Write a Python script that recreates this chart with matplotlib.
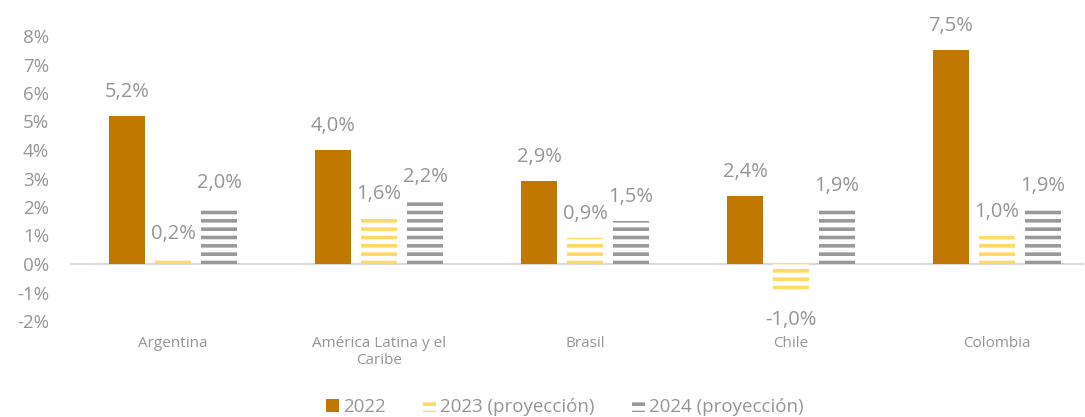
import matplotlib
matplotlib.use("Agg")
import matplotlib.pyplot as plt
from matplotlib.patches import Patch
import numpy as np

categories = ["Argentina", "América Latina y el\nCaribe", "Brasil", "Chile", "Colombia"]
series_names = ["2022", "2023 (proyección)", "2024 (proyección)"]
v2022 = [5.2, 4.0, 2.9, 2.4, 7.5]
v2023 = [0.2, 1.6, 0.9, -1.0, 1.0]
v2024 = [2.0, 2.2, 1.5, 1.9, 1.9]
yticks = [-2, -1, 0, 1, 2, 3, 4, 5, 6, 7, 8]

colors = ["#C07800", "#FFD966", "#999999"]
hatches = [None, "--", "--"]
text_color = "#959595"

plt.rcParams['font.family'] = ['Open Sans', 'DejaVu Sans']
plt.rcParams['hatch.linewidth'] = 2.6

W, H = 1085, 417
fig = plt.figure(figsize=(W / 100, H / 100), dpi=100)
ax_left, ax_right = 70, 1084
ax_top, ax_bottom = 36, 321
ax = fig.add_axes([ax_left / W, 1 - ax_bottom / H, (ax_right - ax_left) / W, (ax_bottom - ax_top) / H])

x = np.arange(len(categories))
pitch = 206.0
width = 36 / pitch
offs = [-46 / pitch, 0, 46 / pitch]
all_vals = [v2022, v2023, v2024]

for i, (vals, c, h) in enumerate(zip(all_vals, colors, hatches)):
    if h is None:
        ax.bar(x + offs[i], vals, width, color=c, linewidth=0, zorder=2)
    else:
        ax.bar(x + offs[i], vals, width, facecolor="white", edgecolor=c,
               hatch=h, linewidth=0, zorder=2)
    for xi, v in zip(x + offs[i], vals):
        lab = f"{v:.1f}%".replace(".", ",")
        dy = 24 if v >= 0 else -27
        ax.annotate(lab, (xi, v), xytext=(0, dy), textcoords="offset pixels",
                    ha="center", va="center", fontsize=14.5, color=text_color)

ax.axhline(0, color="#D9D9D9", linewidth=1.5, zorder=1)
ax.set_ylim(-2, 8)
ax.set_xlim(-0.5, -0.5 + (ax_right - ax_left) / pitch)
ax.set_yticks(yticks)
ax.set_yticklabels([f"{t}%" for t in yticks], fontsize=13.5, color=text_color)
ax.set_xticks(x)
ax.set_xticklabels(categories, fontsize=11, color=text_color)
for t in ax.get_xticklabels():
    t.set_multialignment("center")
ax.tick_params(axis="both", length=0)
ax.tick_params(axis="y", pad=15)
ax.tick_params(axis="x", pad=11)
for s in ax.spines.values():
    s.set_visible(False)

handles = [Patch(facecolor=colors[0], linewidth=0),
           Patch(facecolor="white", edgecolor=colors[1], hatch="--", linewidth=0),
           Patch(facecolor="white", edgecolor=colors[2], hatch="--", linewidth=0)]
fig.legend(handles, series_names, loc="center", bbox_to_anchor=(565 / W, 1 - 407 / H),
           ncol=3, frameon=False, fontsize=13.5, handlelength=0.7, handleheight=0.7,
           handletextpad=0.2, columnspacing=2.0, labelcolor=text_color)

fig.savefig("out.png", dpi=100)
